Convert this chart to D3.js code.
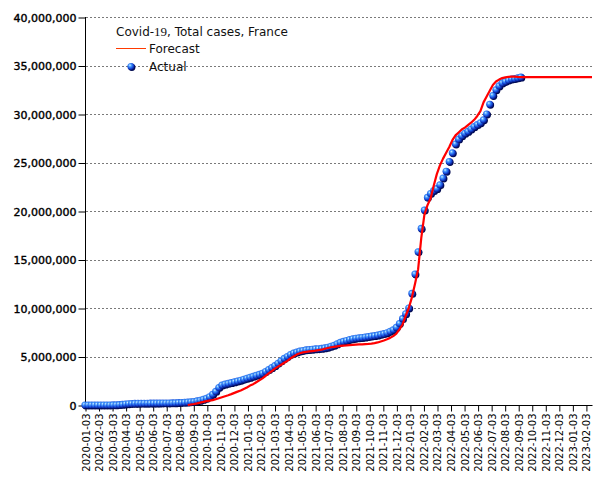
<!DOCTYPE html>
<html>
<head>
<meta charset="utf-8">
<script src="https://cdn.jsdelivr.net/npm/d3@7"></script>
<style>
  html, body { margin: 0; padding: 0; background: #fff; }
  svg { display: block; }
</style>
</head>
<body>
<svg id="chart" width="605" height="480"></svg>
<script>
// ---------------- DATA ----------------
const chartTitle = "Covid-19, Total cases, France";
const seriesNames = ["Forecast", "Actual"];

// Monthly category tick labels (evenly spaced)
const xTickLabels = [
  "2020-01-03","2020-02-03","2020-03-03","2020-04-03","2020-05-03","2020-06-03",
  "2020-07-03","2020-08-03","2020-09-03","2020-10-03","2020-11-03","2020-12-03",
  "2021-01-03","2021-02-03","2021-03-03","2021-04-03","2021-05-03","2021-06-03",
  "2021-07-03","2021-08-03","2021-09-03","2021-10-03","2021-11-03","2021-12-03",
  "2022-01-03","2022-02-03","2022-03-03","2022-04-03","2022-05-03","2022-06-03",
  "2022-07-03","2022-08-03","2022-09-03","2022-10-03","2022-11-03","2022-12-03",
  "2023-01-03","2023-02-03"
];

const yTickValues = [0, 5e6, 10e6, 15e6, 20e6, 25e6, 30e6, 35e6, 40e6];

// Actual total cases (millions), weekly from 2020-01-03
const actualStartWeek = 0;
const actualMillions = [
  0,0,0,0,0,0,0,0,0,0.005,
  0.01,0.03,0.06,0.1,0.13,0.15,0.16,0.17,0.175,0.18,
  0.18,0.185,0.19,0.19,0.195,0.2,0.2,0.205,0.21,0.22,
  0.24,0.26,0.28,0.3,0.33,0.36,0.42,0.48,0.58,0.68,
  0.85,1.1,1.4,1.8,2.05,2.15,2.22,2.3,2.38,2.46,
  2.55,2.65,2.75,2.85,2.95,3.05,3.15,3.27,3.45,3.65,
  3.85,4.05,4.3,4.55,4.8,5.0,5.2,5.35,5.45,5.55,
  5.62,5.68,5.72,5.75,5.78,5.8,5.83,5.88,5.95,6.05,
  6.15,6.3,6.45,6.55,6.65,6.75,6.82,6.88,6.92,6.96,
  7.0,7.05,7.1,7.15,7.2,7.28,7.35,7.45,7.6,7.75,
  8.0,8.4,8.9,9.4,10.0,11.5,13.5,15.8,18.2,20.1,
  21.4,21.8,22.1,22.3,22.7,23.4,24.1,25.1,26.0,26.9,
  27.4,27.75,28.0,28.2,28.45,28.7,28.9,29.1,29.4,30.0,
  31.0,31.9,32.5,32.9,33.2,33.35,33.5,33.6,33.65,33.72,
  33.8
];

// Forecast total cases (millions), weekly from week 33 (late Aug 2020)
const forecastStartWeek = 33;
const forecastMillions = [
  0.0,0.05,0.1,0.17,0.25,0.32,0.4,0.45,0.5,0.6,
  0.7,0.8,0.9,1.0,1.12,1.25,1.38,1.5,1.65,1.8,
  2.0,2.15,2.35,2.55,2.75,3.0,3.25,3.5,3.75,3.95,
  4.15,4.35,4.55,4.8,5.0,5.2,5.33,5.42,5.48,5.52,
  5.56,5.6,5.65,5.7,5.8,5.88,5.95,6.0,6.05,6.1,
  6.13,6.15,6.18,6.2,6.22,6.24,6.26,6.28,6.3,6.33,
  6.38,6.45,6.55,6.65,6.78,6.92,7.1,7.35,7.8,8.3,
  9.2,10.0,11.1,12.5,14.0,17.2,19.6,20.6,21.3,22.6,
  23.8,24.7,25.4,26.0,26.6,27.3,27.8,28.1,28.4,28.6,
  28.85,29.1,29.4,29.8,30.3,31.2,31.8,32.4,33.0,33.35,
  33.55,33.7,33.78,33.83,33.85,33.85,33.82,33.8,33.8,33.8,
  33.8,33.8,33.8,33.8,33.8,33.8,33.8,33.8,33.8,33.8,
  33.8,33.8,33.8,33.8,33.8,33.8,33.8,33.8,33.8,33.8,
  33.8
];

// ---------------- LAYOUT ----------------
const svg = d3.select("#chart");
const pLeft = 85, pRight = 592, pTop = 17, pBottom = 405;
const monthsPerWeek = 7 / (365.25 / 12);

const x = d3.scaleLinear().domain([0, 37.45]).range([pLeft, pRight]);
const y = d3.scaleLinear().domain([0, 40e6]).range([pBottom, pTop]);

const defs = svg.append("defs");
const grad = defs.append("radialGradient")
  .attr("id", "ball").attr("cx", "40%").attr("cy", "38%").attr("r", "62%")
  .attr("fx", "35%").attr("fy", "32%");
grad.append("stop").attr("offset", "0%").attr("stop-color", "#d8f0ff");
grad.append("stop").attr("offset", "30%").attr("stop-color", "#4aa0ff");
grad.append("stop").attr("offset", "70%").attr("stop-color", "#1446d8");
grad.append("stop").attr("offset", "100%").attr("stop-color", "#06157a");

// gridlines
svg.append("g").selectAll("line")
  .data(yTickValues.filter(v => v > 0))
  .join("line")
  .attr("x1", pLeft + 1).attr("x2", pRight)
  .attr("y1", d => Math.round(y(d)) + 0.5).attr("y2", d => Math.round(y(d)) + 0.5)
  .attr("stroke", "#7a7a7a").attr("stroke-width", 1)
  .attr("stroke-dasharray", "2,2");

// y axis
const yAxis = d3.axisLeft(y).tickValues(yTickValues).tickSize(7).tickPadding(2)
  .tickFormat(d3.format(","));
const gy = svg.append("g").attr("transform", `translate(${pLeft + 0.5},0.5)`).call(yAxis);
gy.select(".domain").remove();
gy.append("line").attr("x1", 0).attr("x2", 0).attr("y1", pTop - 0.5).attr("y2", pBottom - 0.5)
  .attr("stroke", "#000");
gy.selectAll("text").attr("font-family", "DejaVu Sans").attr("font-size", 11)
  .attr("fill", "#000").attr("stroke", "#000").attr("stroke-width", 0.4);
gy.selectAll(".tick line").attr("stroke", "#000");

// x axis
const xAxis = d3.axisBottom(x).tickValues(d3.range(xTickLabels.length)).tickSize(6)
  .tickFormat(i => xTickLabels[i]);
const gx = svg.append("g").attr("transform", `translate(0.5,${pBottom + 0.5})`).call(xAxis);
gx.select(".domain").remove();
gx.append("line").attr("x1", pLeft).attr("x2", pRight).attr("y1", 0).attr("y2", 0)
  .attr("stroke", "#000");
gx.selectAll(".tick line").attr("stroke", "#000");
gx.selectAll("text")
  .attr("font-family", "DejaVu Sans").attr("font-size", 10).attr("fill", "#000")
  .attr("text-anchor", "end")
  .attr("transform", "rotate(-90)")
  .attr("x", -8).attr("y", 0).attr("dy", "0.35em");

// actual points
const actualPts = actualMillions.map((v, i) => ({ m: (actualStartWeek + i) * monthsPerWeek, v: v * 1e6 }));
const gp = svg.append("g");
gp.selectAll("circle.sh").data(actualPts).join("circle").attr("class", "sh")
  .attr("cx", d => x(d.m) + 0.8).attr("cy", d => y(d.v) + 0.8).attr("r", 3.6)
  .attr("fill", "#000a50");
gp.selectAll("circle.pt").data(actualPts).join("circle").attr("class", "pt")
  .attr("cx", d => x(d.m)).attr("cy", d => y(d.v)).attr("r", 3.6)
  .attr("fill", "url(#ball)");

// forecast line
const forecastPts = forecastMillions.map((v, i) => ({ m: (forecastStartWeek + i) * monthsPerWeek, v: v * 1e6 }));
const line = d3.line().x(d => Math.min(x(d.m), pRight)).y(d => y(d.v));
svg.append("path").datum(forecastPts)
  .attr("d", line).attr("fill", "none").attr("stroke", "#ff0000").attr("stroke-width", 2.2)
  .attr("stroke-linejoin", "round");

// legend
const lg = svg.append("g").attr("font-family", "DejaVu Sans").attr("font-size", 12).attr("fill", "#111");
const t = lg.append("text").attr("x", 116).attr("y", 36);
t.append("tspan").text("Covid-");
t.append("tspan").attr("font-family", "Liberation Serif").attr("font-size", 13).text("19");
t.append("tspan").text(", Total cases, France");
lg.append("line").attr("x1", 116).attr("x2", 146).attr("y1", 48.5).attr("y2", 48.5)
  .attr("stroke", "#ff3a00").attr("stroke-width", 1);
lg.append("text").attr("x", 149).attr("y", 53).text(seriesNames[0]);
lg.append("circle").attr("cx", 131.8).attr("cy", 67.3).attr("r", 3.6).attr("fill", "#000a50");
lg.append("circle").attr("cx", 131).attr("cy", 66.5).attr("r", 3.6).attr("fill", "url(#ball)");
lg.append("text").attr("x", 149).attr("y", 71).text(seriesNames[1]);
</script>
</body>
</html>
